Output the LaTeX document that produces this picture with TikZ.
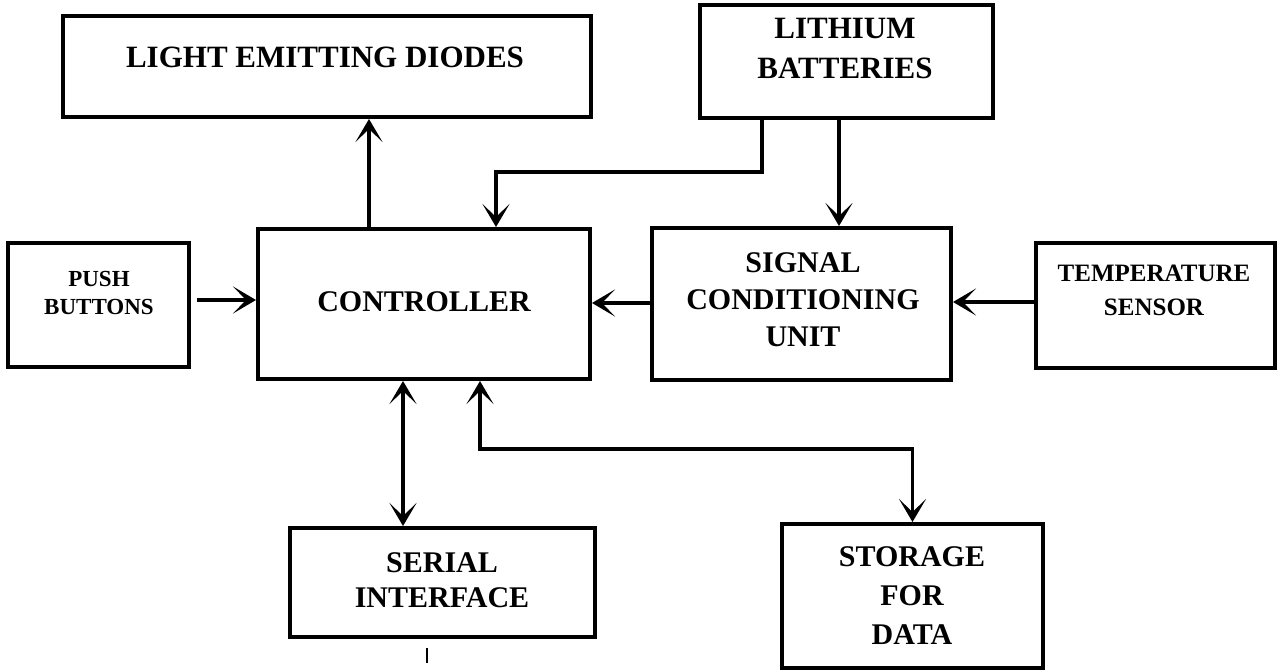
\documentclass[tikz,border=0pt]{standalone}
\usepackage{fontspec}
\setmainfont{Liberation Serif}
\usetikzlibrary{arrows.meta}
\begin{document}
\begin{tikzpicture}[x=1pt,y=-1pt,
  box/.style={draw, line width=4pt, inner sep=0pt},
  lbl/.style={font=\fontsize{30}{37}\selectfont\bfseries, align=center, inner sep=0pt},
  tip/.tip={Stealth[length=23pt,width=27pt,inset=13pt]},
  conn/.style={line width=3.5pt, -tip},
  conn2/.style={line width=3.5pt, tip-tip},
]
\useasboundingbox[fill=white] (0,0) rectangle (1279,671);

% boxes
\node[box, minimum width=528pt, minimum height=101pt] (led) at (327,66.5) {};
\node[box, minimum width=293pt, minimum height=113pt] (lith) at (846.5,61.5) {};
\node[box, minimum width=181pt, minimum height=124pt] (push) at (98.5,305) {};
\node[box, minimum width=332pt, minimum height=150pt] (ctrl) at (424,304) {};
\node[box, minimum width=299pt, minimum height=152pt] (sig) at (801.5,304) {};
\node[box, minimum width=239pt, minimum height=125pt] (temp) at (1155.5,305.5) {};
\node[box, minimum width=305pt, minimum height=109pt] (serial) at (442.5,582.5) {};
\node[box, minimum width=261pt, minimum height=144pt] (stor) at (912.5,596) {};

% texts
\node[lbl, font=\fontsize{31}{37}\selectfont\bfseries] (ledt) at (325,57) {LIGHT EMITTING DIODES};
\node[lbl, font=\fontsize{31}{40}\selectfont\bfseries] (litht) at (845,49) {LITHIUM\\BATTERIES};
\node[lbl, font=\fontsize{23}{28}\selectfont\bfseries] (pusht) at (99,293) {PUSH\\BUTTONS};
\node[lbl] (ctrlt) at (424,302) {CONTROLLER};
\node[lbl] (sigt) at (803,300) {SIGNAL\\CONDITIONING\\UNIT};
\node[lbl, font=\fontsize{25}{34}\selectfont\bfseries] (tempt) at (1154,290) {TEMPERATURE\\SENSOR};
\node[lbl, font=\fontsize{30}{35}\selectfont\bfseries] (serialt) at (442,580) {SERIAL\\INTERFACE};
\node[lbl, font=\fontsize{30}{39}\selectfont\bfseries] (stort) at (912,596) {STORAGE\\FOR\\DATA};

% helper coordinates
\coordinate (xled) at (369,0);
\coordinate (xlb) at (762,0);
\coordinate (xlc) at (496,0);
\coordinate (ylb) at (0,172);
\coordinate (xls) at (839,0);
\coordinate (ypb) at (0,300);
\coordinate (ysc) at (0,303);
\coordinate (yts) at (0,302);
\coordinate (xser) at (403,0);
\coordinate (xst) at (480,0);
\coordinate (yst) at (0,449);
\coordinate (tickA) at (427,648);
\coordinate (tickB) at (427,663);

% connectors
\draw[conn] (ctrl.north -| xled) -- (led.south -| xled);
\draw[conn] (lith.south -| xlb) -- (xlb |- ylb) -- (xlc |- ylb) -- (ctrl.north -| xlc);
\draw[conn] (lith.south -| xls) -- (sig.north -| xls);
\draw[conn, shorten <=6pt] (push.east |- ypb) -- (ctrl.west |- ypb);
\draw[conn] (sig.west |- ysc) -- (ctrl.east |- ysc);
\draw[conn] (temp.west |- yts) -- (sig.east |- yts);
\draw[conn2] (serial.north -| xser) -- (ctrl.south -| xser);
\draw[conn2] (ctrl.south -| xst) -- (xst |- yst) -- (stor.north |- yst) -- (stor.north);
\draw[line width=2pt] (tickA) -- (tickB);
\end{tikzpicture}
\end{document}
